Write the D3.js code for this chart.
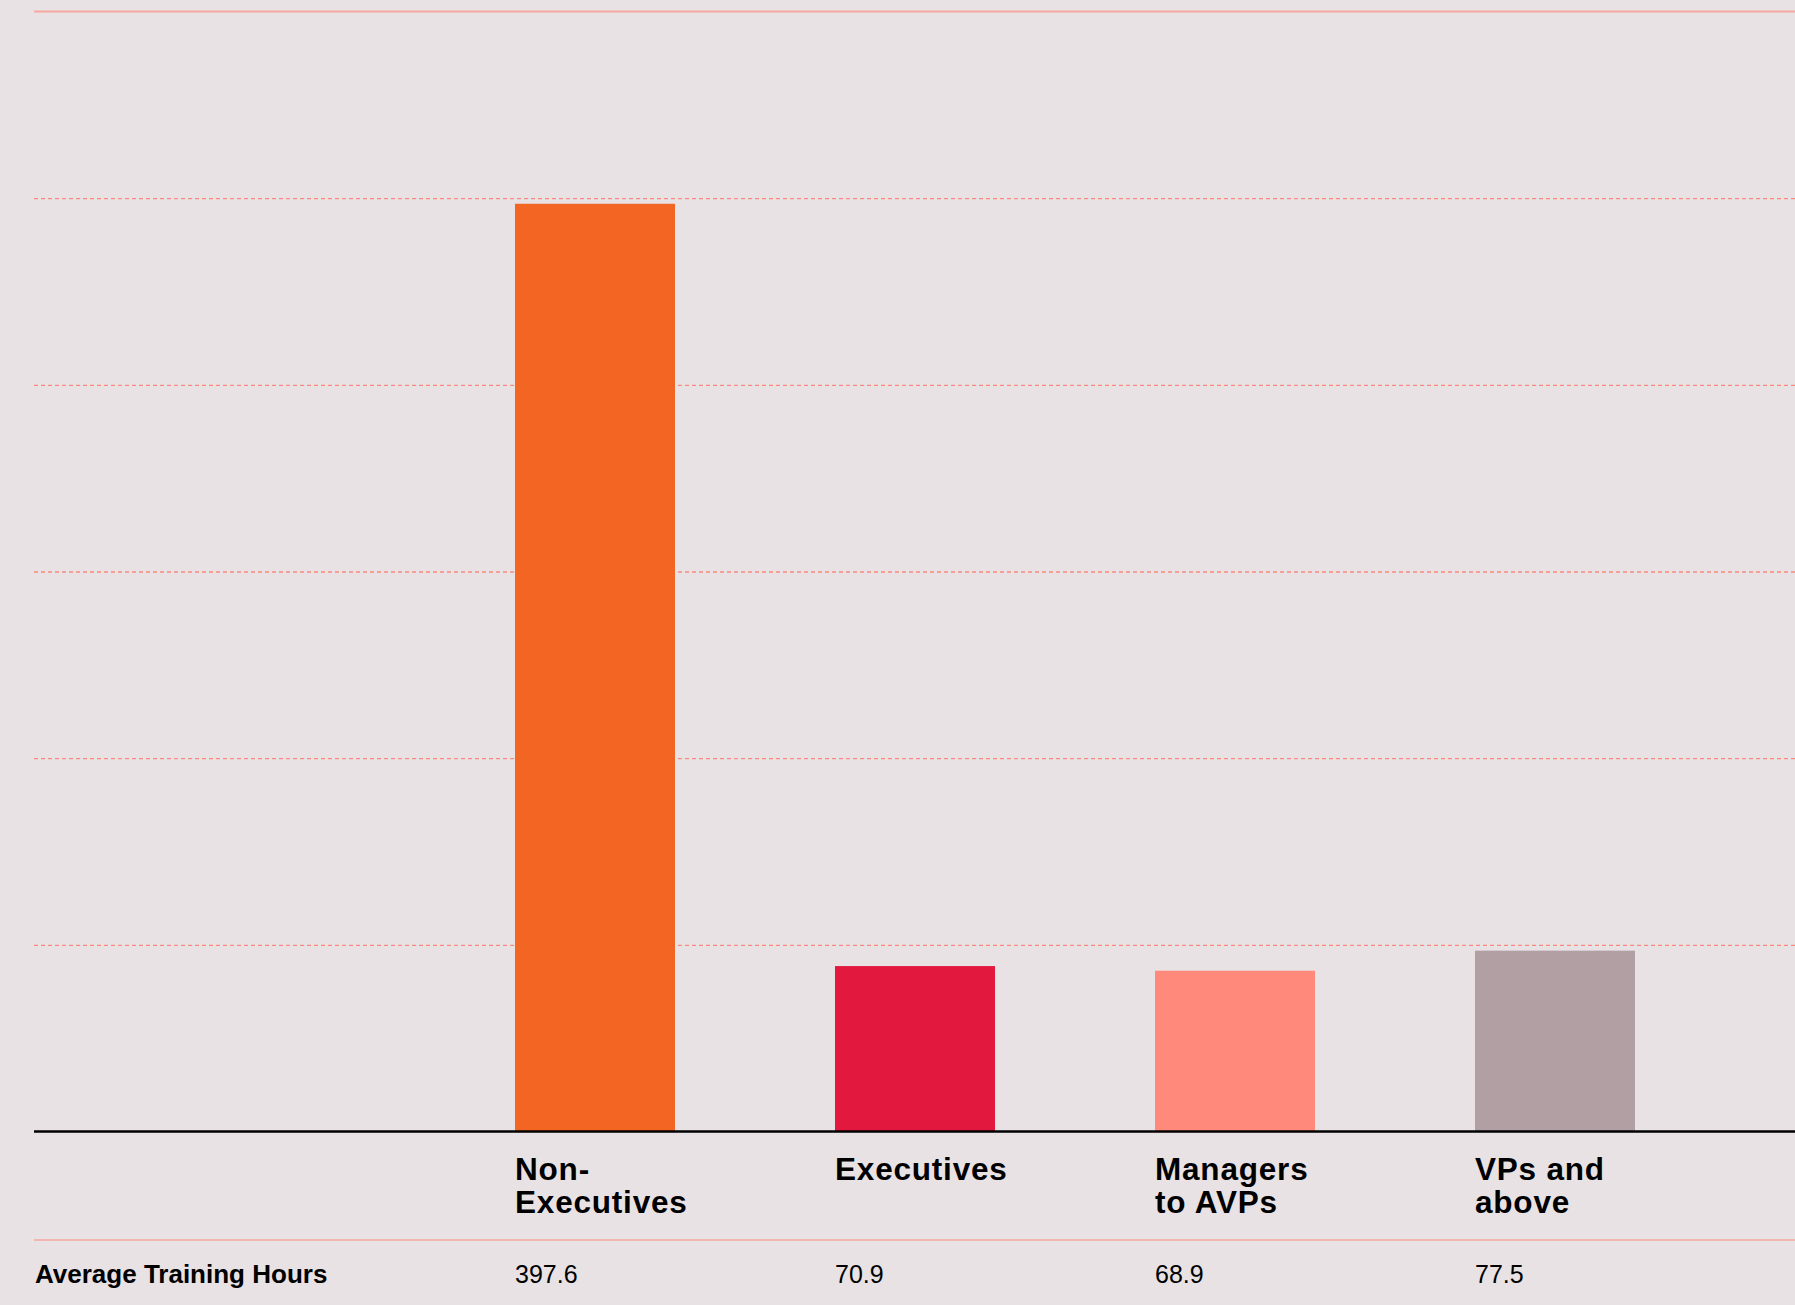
<!DOCTYPE html>
<html>
<head>
<meta charset="utf-8">
<script src="https://cdn.jsdelivr.net/npm/d3@7"></script>
<style>
  html, body { margin: 0; padding: 0; background: #e8e2e4; }
  svg { display: block; }
  text { font-family: "Liberation Sans", Arial, Helvetica, sans-serif; fill: #000; }
</style>
</head>
<body>
<svg id="chart" width="1795" height="1305"></svg>
<script>
// Employee groups, in column order
const categories = ["Non-Executives", "Executives", "Managers to AVPs", "VPs and above"];
// Header lines shown under each bar
const categoryLines = [["Non-", "Executives"], ["Executives"], ["Managers", "to AVPs"], ["VPs and", "above"]];
// Average training hours per group
const trainingHours = [397.6, 70.9, 68.9, 77.5];
const barColors = ["#f26522", "#e3183f", "#ff8a7b", "#b29fa3"];
// Value gridlines
const gridTicks = [80, 160, 240, 320, 400];
const rowLabel = "Average Training Hours";

const W = 1795, H = 1305;
const left = 34, right = W;
const colStart = 515;

const svg = d3.select("#chart");

svg.append("rect").attr("width", W).attr("height", H).attr("fill", "#e8e2e4");

const y = d3.scaleLinear().domain([0, 480]).range([1131.5, 11.5]);
const x = d3.scaleBand().domain(categories).range([colStart, right]).padding(0);
const barW = x.bandwidth() * 0.5;

// dashed gridlines
const grid = svg.append("g")
  .attr("transform", `translate(${left},0)`)
  .call(d3.axisRight(y).tickValues(gridTicks).tickSize(right - left).tickFormat(""));
grid.select(".domain").remove();
grid.selectAll(".tick line")
  .attr("stroke", "#f78a7c")
  .attr("stroke-width", 1.3)
  .attr("stroke-dasharray", "4,3");

// top rule at the scale maximum
svg.append("line")
  .attr("x1", left).attr("x2", right)
  .attr("y1", y(480)).attr("y2", y(480))
  .attr("stroke", "#f4a89d").attr("stroke-width", 2);

// bars
svg.append("g").selectAll("rect")
  .data(categories)
  .join("rect")
  .attr("x", d => x(d))
  .attr("width", barW)
  .attr("y", (d, i) => y(trainingHours[i]))
  .attr("height", (d, i) => y(0) - y(trainingHours[i]))
  .attr("fill", (d, i) => barColors[i]);

// baseline
svg.append("line")
  .attr("x1", left).attr("x2", right)
  .attr("y1", y(0)).attr("y2", y(0))
  .attr("stroke", "#000").attr("stroke-width", 2.5);

// column headers
const headers = svg.append("g").selectAll("text")
  .data(categories)
  .join("text")
  .attr("x", d => x(d))
  .attr("y", 1180)
  .attr("font-size", 31.5)
  .attr("font-weight", "bold")
  .attr("letter-spacing", 0.8);
headers.each(function(d, i) {
  d3.select(this).selectAll("tspan")
    .data(categoryLines[i])
    .join("tspan")
    .attr("x", x(d))
    .attr("dy", (t, j) => j === 0 ? 0 : 33)
    .text(t => t);
});

// table separator
svg.append("line")
  .attr("x1", left).attr("x2", right)
  .attr("y1", 1240).attr("y2", 1240)
  .attr("stroke", "#f4a89d").attr("stroke-width", 1.5);

// data row
svg.append("text")
  .attr("x", left + 1)
  .attr("y", 1283)
  .attr("font-size", 26)
  .attr("font-weight", "bold")
  .text(rowLabel);

svg.append("g").selectAll("text")
  .data(categories)
  .join("text")
  .attr("x", d => x(d))
  .attr("y", 1283)
  .attr("font-size", 25)
  .text((d, i) => d3.format(".1f")(trainingHours[i]));
</script>
</body>
</html>
